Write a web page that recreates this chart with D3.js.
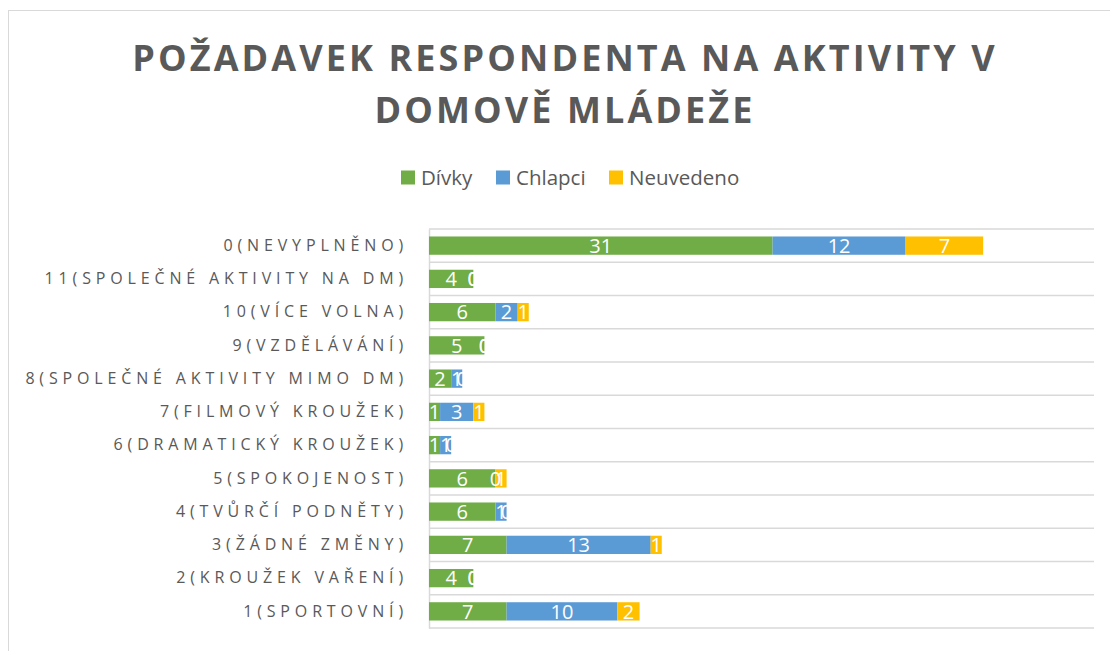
<!DOCTYPE html>
<html lang="cs">
<head>
<meta charset="utf-8">
<script src="https://cdn.jsdelivr.net/npm/d3@7"></script>
<style>
  html, body { margin: 0; padding: 0; background: #fff; }
  svg { display: block; font-family: "Open Sans", "Noto Sans", sans-serif; }
</style>
</head>
<body>
<div id="chart"></div>
<script>
const categories = [
    "0(NEVYPLNĚNO)",
    "11(SPOLEČNÉ AKTIVITY NA DM)",
    "10(VÍCE VOLNA)",
    "9(VZDĚLÁVÁNÍ)",
    "8(SPOLEČNÉ AKTIVITY MIMO DM)",
    "7(FILMOVÝ KROUŽEK)",
    "6(DRAMATICKÝ KROUŽEK)",
    "5(SPOKOJENOST)",
    "4(TVŮRČÍ PODNĚTY)",
    "3(ŽÁDNÉ ZMĚNY)",
    "2(KROUŽEK VAŘENÍ)",
    "1(SPORTOVNÍ)"
];
const divky = [31, 4, 6, 5, 2, 1, 1, 6, 6, 7, 4, 7];
const chlapci = [12, 0, 2, 0, 1, 3, 1, 0, 1, 13, 0, 10];
const neuvedeno = [7, 0, 1, 0, 0, 1, 0, 1, 0, 1, 0, 2];
const seriesNames = ["Dívky", "Chlapci", "Neuvedeno"];
const colors = ["#70ad47", "#5b9bd5", "#ffc000"];
const titleLines = ["POŽADAVEK RESPONDENTA NA AKTIVITY V", "DOMOVĚ MLÁDEŽE"];

const width = 1110;
const height = 651;
const textColor = "#595959";
const gridColor = "#d9d9d9";

const svg = d3.select("#chart").append("svg")
    .attr("width", width)
    .attr("height", height);

// rámeček grafu
svg.append("rect")
    .attr("x", 8.5).attr("y", 10.5)
    .attr("width", 1120).attr("height", 660)
    .attr("fill", "#fff")
    .attr("stroke", gridColor)
    .attr("stroke-width", 1);

// nadpis
svg.append("text")
    .attr("x", 565)
    .attr("y", 71)
    .attr("text-anchor", "middle")
    .attr("fill", textColor)
    .attr("font-size", "36px")
    .attr("font-weight", "bold")
    .attr("letter-spacing", "3.1px")
    .selectAll("tspan")
    .data(titleLines)
    .enter()
    .append("tspan")
    .attr("x", 565)
    .attr("dy", (d, i) => i === 0 ? 0 : 52)
    .text(d => d);

// legenda
const legendX = [401, 496, 609];
const legend = svg.append("g");
seriesNames.forEach((name, i) => {
    legend.append("rect")
        .attr("x", legendX[i]).attr("y", 170.5)
        .attr("width", 14).attr("height", 14)
        .attr("fill", colors[i]);
    legend.append("text")
        .attr("x", legendX[i] + 20)
        .attr("y", 185)
        .attr("fill", textColor)
        .attr("font-size", "20.5px")
        .text(name);
});

// škály
const x = d3.scaleLinear()
    .domain([0, 60])
    .range([429, 1094]);

const y = d3.scaleBand()
    .domain(categories)
    .range([229, 628])
    .paddingInner(0.45)
    .paddingOuter(0.225);

// mřížka mezi kategoriemi
const bounds = d3.range(categories.length + 1).map(i => 229 + i * y.step());
svg.append("g")
    .selectAll("line")
    .data(bounds)
    .enter()
    .append("line")
    .attr("x1", x(0)).attr("x2", x(60))
    .attr("y1", d => d).attr("y2", d => d)
    .attr("stroke", gridColor)
    .attr("stroke-width", 1.5);

// osa Y
const yAxis = svg.append("g")
    .attr("transform", `translate(${x(0)},0)`)
    .call(d3.axisLeft(y).tickSize(0).tickPadding(21));
yAxis.select(".domain").attr("stroke", gridColor).attr("stroke-width", 1.5);
yAxis.selectAll("text")
    .attr("fill", textColor)
    .attr("font-size", "16px")
    .attr("font-family", "Open Sans, sans-serif")
    .attr("letter-spacing", "4.85px");

// skládaná data
const rows = categories.map((c, i) => ({
    cat: c, "Dívky": divky[i], "Chlapci": chlapci[i], "Neuvedeno": neuvedeno[i]
}));
const stacked = d3.stack().keys(seriesNames)(rows);

const layers = svg.append("g")
    .selectAll("g")
    .data(stacked)
    .enter()
    .append("g")
    .attr("fill", (d, i) => colors[i]);

layers.selectAll("rect")
    .data(d => d)
    .enter()
    .append("rect")
    .attr("x", d => x(d[0]))
    .attr("y", d => y(d.data.cat))
    .attr("width", d => x(d[1]) - x(d[0]))
    .attr("height", y.bandwidth());

// popisky hodnot
const labels = svg.append("g")
    .attr("fill", "#fff")
    .attr("font-size", "20px")
    .attr("text-anchor", "middle");
stacked.forEach(layer => {
    labels.selectAll(null)
        .data(layer)
        .enter()
        .append("text")
        .attr("x", d => (x(d[0]) + x(d[1])) / 2)
        .attr("y", d => y(d.data.cat) + y.bandwidth() / 2)
        .attr("dy", "0.36em")
        .text(d => d[1] - d[0]);
});
</script>
</body>
</html>
